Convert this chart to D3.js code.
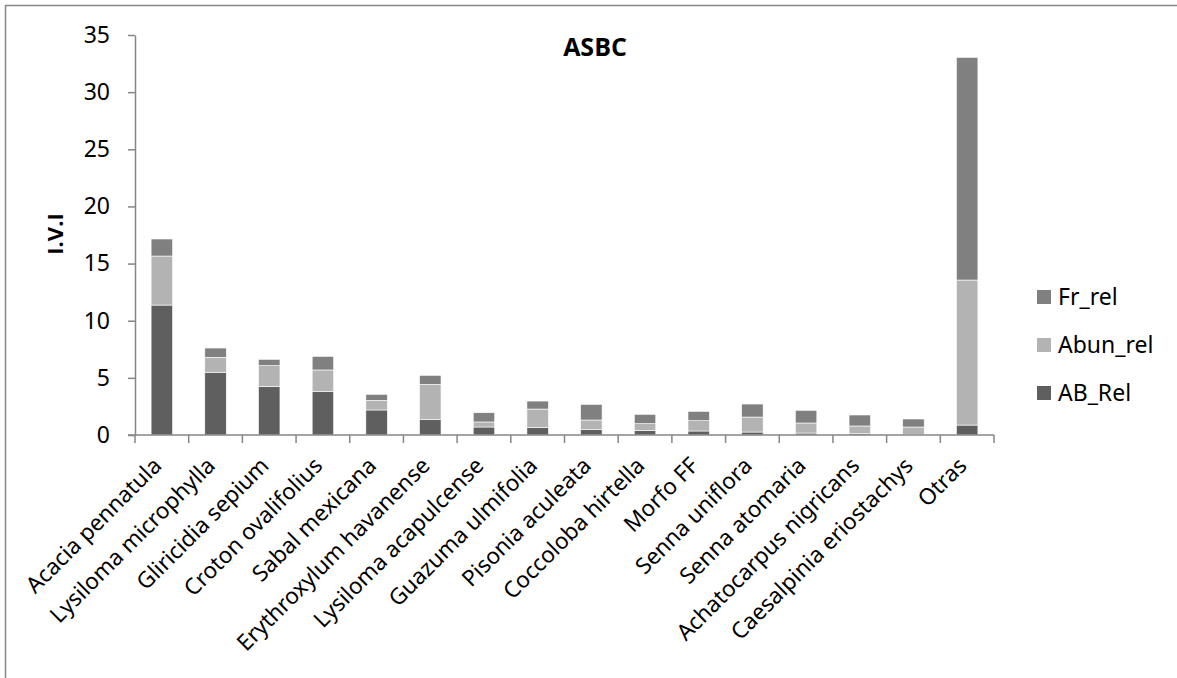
<!DOCTYPE html>
<html>
<head>
<meta charset="utf-8">
<script src="https://cdn.jsdelivr.net/npm/d3@7"></script>
<style>
  html, body { margin: 0; padding: 0; background: #fff; overflow: hidden; }
  svg { display: block; font-family: "Noto Sans", "Open Sans", sans-serif; }
</style>
</head>
<body>
<svg id="chart" width="1177" height="678"></svg>
<script>
// Species (categories) along the x axis
const species = [
  "Acacia pennatula", "Lysiloma microphylla", "Gliricidia sepium", "Croton ovalifolius",
  "Sabal mexicana", "Erythroxylum havanense", "Lysiloma acapulcense", "Guazuma ulmifolia",
  "Pisonia aculeata", "Coccoloba hirtella", "Morfo FF", "Senna uniflora",
  "Senna atomaria", "Achatocarpus nigricans", "Caesalpinia eriostachys", "Otras"
];

// Stacked components of the importance value index
const abRel   = [11.37, 5.49, 4.26, 3.79, 2.19, 1.34, 0.70, 0.67, 0.50, 0.41, 0.35, 0.26, 0.17, 0.12, 0.05, 0.87];
const abunRel = [4.29, 1.31, 1.81, 1.90, 0.84, 3.09, 0.44, 1.60, 0.81, 0.58, 0.90, 1.31, 0.88, 0.67, 0.65, 12.69];
const frRel   = [1.49, 0.81, 0.55, 1.19, 0.53, 0.79, 0.81, 0.70, 1.37, 0.82, 0.82, 1.14, 1.11, 0.96, 0.70, 19.48];

const seriesNames = ["AB_Rel", "Abun_rel", "Fr_rel"];
const seriesColors = ["#5f5f5f", "#b3b3b3", "#808080"];
const yTicks = [0, 5, 10, 15, 20, 25, 30, 35];

const rows = species.map((s, i) => ({
  species: s, AB_Rel: abRel[i], Abun_rel: abunRel[i], Fr_rel: frRel[i]
}));

const svg = d3.select("#chart");

// Outer chart frame (right and bottom edges fall outside the canvas)
svg.append("rect")
  .attr("x", 5.5).attr("y", 5.5)
  .attr("width", 1200).attr("height", 700)
  .attr("fill", "none").attr("stroke", "#868686").attr("stroke-width", 1.5);

const plot = { left: 135, right: 994, top: 35, bottom: 435 };

const x = d3.scaleBand()
  .domain(species)
  .range([plot.left, plot.right])
  .paddingInner(0.6)
  .paddingOuter(0.3);

const y = d3.scaleLinear()
  .domain([0, 35])
  .range([plot.bottom, plot.top]);

const layers = d3.stack().keys(seriesNames)(rows);

svg.append("g").selectAll("g.layer")
  .data(layers)
  .join("g")
  .attr("class", "layer")
  .attr("fill", (d, i) => seriesColors[i])
  .selectAll("rect")
  .data(d => d)
  .join("rect")
  .attr("x", d => x(d.data.species))
  .attr("width", x.bandwidth())
  .attr("y", d => y(d[1]))
  .attr("height", d => y(d[0]) - y(d[1]))
  .attr("stroke", "#ffffff")
  .attr("stroke-width", 0.6);

// Y axis
const yAxis = svg.append("g")
  .attr("transform", `translate(${plot.left},0)`)
  .call(d3.axisLeft(y).tickValues(yTicks).tickSize(7).tickPadding(18).tickSizeOuter(0));
yAxis.select(".domain").attr("stroke", "#868686").attr("stroke-width", 1.5);
yAxis.selectAll(".tick line").attr("stroke", "#868686").attr("stroke-width", 1.5);
yAxis.selectAll(".tick text")
  .attr("font-size", 23).attr("fill", "#000")
  .attr("font-family", "Noto Sans, sans-serif");

// X axis with tick marks at the category boundaries
const edge = i => plot.left + i * (plot.right - plot.left) / species.length;
const xAxisG = svg.append("g");
xAxisG.append("line")
  .attr("x1", plot.left - 7).attr("x2", plot.right)
  .attr("y1", plot.bottom).attr("y2", plot.bottom)
  .attr("stroke", "#868686").attr("stroke-width", 1.5);
xAxisG.selectAll("line.tk")
  .data(d3.range(species.length + 1))
  .join("line")
  .attr("class", "tk")
  .attr("x1", edge).attr("x2", edge)
  .attr("y1", plot.bottom).attr("y2", plot.bottom + 8)
  .attr("stroke", "#868686").attr("stroke-width", 1.5);

xAxisG.selectAll("text.lbl")
  .data(species)
  .join("text")
  .attr("class", "lbl")
  .attr("transform", d => `translate(${x(d) + x.bandwidth() / 2 + 1},${plot.bottom + 32}) rotate(-45)`)
  .attr("text-anchor", "end")
  .attr("font-size", 22.5)
  .attr("fill", "#000")
  .text(d => d);

// Title
svg.append("text")
  .attr("x", 595).attr("y", 56)
  .attr("text-anchor", "middle")
  .attr("font-family", "Open Sans, sans-serif")
  .attr("font-size", 25).attr("font-weight", "bold")
  .text("ASBC");

// Y axis title
svg.append("text")
  .attr("transform", "translate(63,234) rotate(-90)")
  .attr("text-anchor", "middle")
  .attr("font-family", "Open Sans, sans-serif")
  .attr("font-size", 22).attr("font-weight", "bold")
  .text("I.V.I");

// Legend (top to bottom: Fr_rel, Abun_rel, AB_Rel)
const legendItems = seriesNames.map((n, i) => ({ name: n, color: seriesColors[i] })).reverse();
const legend = svg.append("g").selectAll("g")
  .data(legendItems)
  .join("g")
  .attr("transform", (d, i) => `translate(1037,${297 + i * 48})`);
legend.append("rect")
  .attr("x", 0).attr("y", -7)
  .attr("width", 14).attr("height", 14)
  .attr("fill", d => d.color);
legend.append("text")
  .attr("x", 21).attr("y", 8)
  .attr("font-size", 23)
  .text(d => d.name);
</script>
</body>
</html>
